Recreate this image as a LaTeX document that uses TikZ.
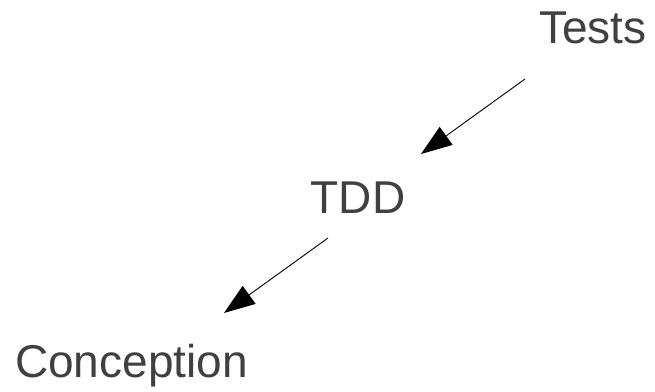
\documentclass[tikz,border=0pt]{standalone}
\usepackage{fontspec}
\setmainfont{Liberation Sans}
\usetikzlibrary{arrows.meta}
\definecolor{txt}{HTML}{404040}
\tikzset{
  lbl/.style={anchor=base, inner sep=0pt, text=txt, font=\fontsize{46}{55}\selectfont},
  conn/.style={draw=black, line width=0.9pt, -{Triangle[length=31pt,width=22pt]}}
}
\begin{document}
\begin{tikzpicture}[x=1pt,y=-1pt]
\useasboundingbox (0,0) rectangle (655,391);
\node[lbl] (tests) at (593,43) {Tests};
\node[lbl] (tdd) at (358,213) {TDD};
\node[lbl, anchor=base west] (conc) at (15,377) {Conception};
\coordinate (a1s) at (525,79);
\coordinate (a1e) at (421,154);
\coordinate (a2s) at (328,238);
\coordinate (a2e) at (224,313);
\draw[conn] (a1s) -- (a1e);
\draw[conn] (a2s) -- (a2e);
\end{tikzpicture}
\end{document}
